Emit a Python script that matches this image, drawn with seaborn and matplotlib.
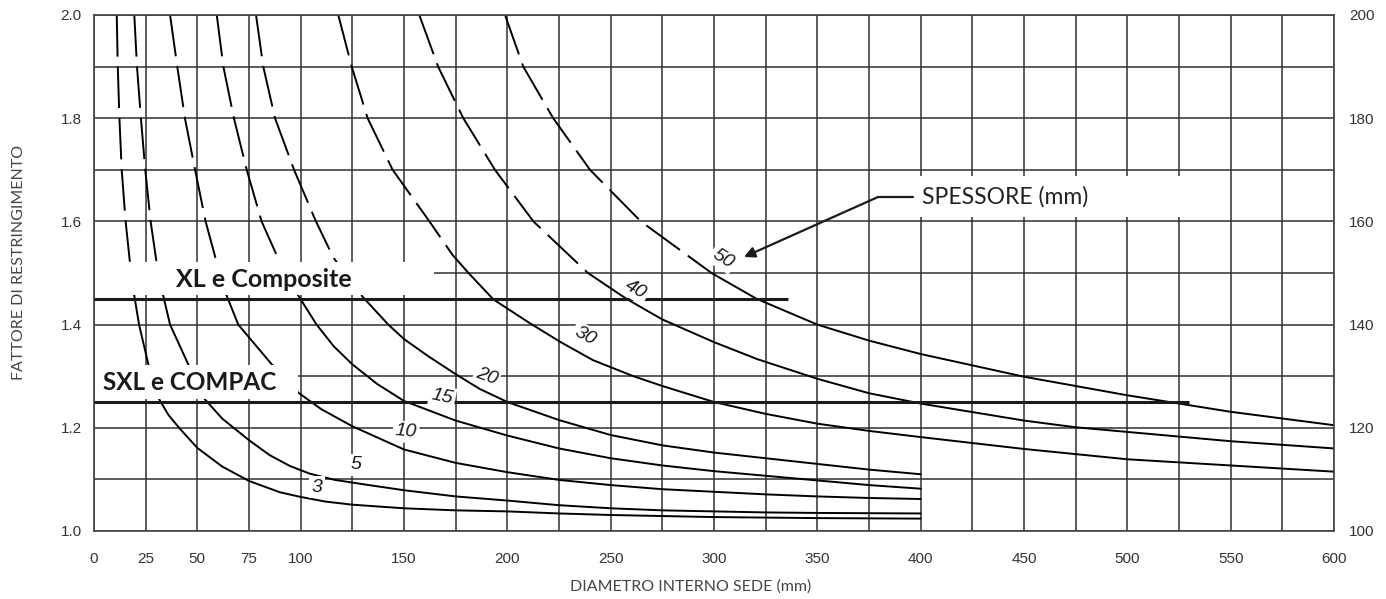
import numpy as np
import matplotlib
matplotlib.use("Agg")
import matplotlib.pyplot as plt
from matplotlib.patches import Rectangle
import seaborn as sns

# ---------------- data ----------------
thickness = [3, 5, 10, 15, 20, 30, 40, 50]

d_3 = [11.0, 11.5, 12.3, 13.4, 15.3, 17.4, 19.5, 21.8, 26.3, 31.6, 36.0, 41.6, 50.0, 62.0, 75.0, 90.0, 100.0,
       112.0, 125.0, 150.0, 175.0, 200.0, 225.0, 250.0, 275.0, 300.0, 350.0, 400.0]
f_3 = [2.00, 1.90, 1.80, 1.70, 1.60, 1.52, 1.456, 1.40, 1.323, 1.255, 1.225, 1.198, 1.161, 1.125, 1.097, 1.075, 1.066,
       1.057, 1.051, 1.044, 1.040, 1.038, 1.034, 1.031, 1.029, 1.027, 1.025, 1.024]

d_5 = [19.5, 20.8, 22.7, 24.8, 27.4, 30.3, 33.5, 36.8, 45.6, 53.7, 62.0, 75.0, 85.0, 94.8, 104.5, 116.6, 133.0, 150.0,
       175.0, 200.0, 225.0, 250.0, 275.0, 300.0, 325.0, 350.0, 400.0]
f_5 = [2.00, 1.90, 1.80, 1.70, 1.60, 1.52, 1.456, 1.40, 1.323, 1.255, 1.218, 1.176, 1.147, 1.126, 1.111, 1.099, 1.089,
       1.079, 1.067, 1.059, 1.050, 1.044, 1.040, 1.038, 1.036, 1.035, 1.034]

d_10 = [36.8, 40.3, 44.0, 48.9, 54.0, 59.4, 64.2, 69.8, 86.0, 98.9, 110.0, 125.0, 150.0, 175.0, 200.0, 225.0, 250.0,
        275.0, 300.0, 325.0, 350.0, 375.0, 400.0]
f_10 = [2.00, 1.90, 1.80, 1.70, 1.60, 1.52, 1.456, 1.40, 1.323, 1.268, 1.236, 1.203, 1.158, 1.132, 1.114, 1.099, 1.089,
        1.081, 1.076, 1.071, 1.067, 1.064, 1.062]

d_15 = [59.4, 62.6, 67.7, 73.9, 81.1, 90.0, 98.9, 107.7, 116.0, 125.0, 137.0, 150.0, 175.0, 200.0, 225.0, 250.0,
        275.0, 300.0, 325.0, 350.0, 375.0, 400.0]
f_15 = [2.00, 1.90, 1.80, 1.70, 1.60, 1.52, 1.456, 1.40, 1.358, 1.323, 1.285, 1.252, 1.214, 1.185, 1.160, 1.141,
        1.127, 1.116, 1.107, 1.098, 1.089, 1.082]

d_20 = [78.4, 81.9, 87.6, 96.8, 107.4, 115.8, 129.5, 142.4, 150.0, 162.0, 175.0, 186.8, 200.0, 225.0, 250.0, 275.0,
        300.0, 325.0, 350.0, 375.0, 400.0]
f_20 = [2.00, 1.90, 1.80, 1.70, 1.60, 1.53, 1.456, 1.40, 1.372, 1.338, 1.304, 1.275, 1.250, 1.215, 1.186, 1.166,
        1.152, 1.141, 1.130, 1.119, 1.110]

d_30 = [118.2, 124.7, 132.4, 144.5, 162.3, 173.5, 181.2, 193.2, 210.0, 225.4, 241.5, 261.0, 275.0, 300.0, 325.0,
        350.0, 375.0, 400.0, 450.0, 500.0, 525.0, 550.0, 600.0]
f_30 = [2.00, 1.90, 1.80, 1.70, 1.60, 1.535, 1.50, 1.449, 1.405, 1.367, 1.331, 1.30, 1.281, 1.250, 1.227,
        1.208, 1.194, 1.182, 1.159, 1.139, 1.133, 1.127, 1.115]

d_40 = [157.4, 166.5, 178.7, 194.0, 212.6, 239.0, 257.6, 275.0, 300.0, 321.0, 350.0, 375.0, 400.0, 450.0, 475.0,
        500.0, 525.0, 550.0, 600.0]
f_40 = [2.00, 1.90, 1.80, 1.70, 1.60, 1.50, 1.450, 1.41, 1.366, 1.333, 1.295, 1.267, 1.247, 1.214, 1.201,
        1.192, 1.183, 1.174, 1.160]

d_50 = [198.9, 207.7, 222.2, 240.0, 264.6, 298.8, 320.6, 350.0, 375.0, 400.0, 450.0, 500.0, 525.0, 550.0, 600.0]
f_50 = [2.00, 1.90, 1.80, 1.70, 1.60, 1.50, 1.45, 1.40, 1.369, 1.343, 1.299, 1.263, 1.247, 1.231, 1.205]

curve_d = [d_3, d_5, d_10, d_15, d_20, d_30, d_40, d_50]
curve_f = [f_3, f_5, f_10, f_15, f_20, f_30, f_40, f_50]

# label positions of thickness numbers (x, y, rotation)
label_x = [108.0, 126.7, 150.9, 168.5, 190.0, 237.5, 262.2, 304.4]
label_y = [1.085, 1.128, 1.192, 1.260, 1.299, 1.378, 1.468, 1.528]
label_rot = [0, 0, -5, -12, -20, -28, -30, -32]

x_ticks = list(range(0, 601, 25))
x_tick_labels = ["0", "25", "50", "75", "100", "", "150", "", "200", "", "250", "", "300", "", "350", "",
                 "400", "", "450", "", "500", "", "550", "", "600"]
y_ticks = [1.0, 1.1, 1.2, 1.3, 1.4, 1.5, 1.6, 1.7, 1.8, 1.9, 2.0]
y_tick_labels = ["1.0", "", "1.2", "", "1.4", "", "1.6", "", "1.8", "", "2.0"]
y2_ticks = [100, 120, 140, 160, 180, 200]

xl_level, xl_end = 1.45, 336.0
sxl_level, sxl_end = 1.25, 530.0

# ---------------- figure ----------------
sns.set_style("white")
plt.rcParams["lines.scale_dashes"] = False
plt.rcParams["font.family"] = ["Liberation Sans", "DejaVu Sans"]

W, H = 1386, 599
fig = plt.figure(figsize=(W / 100, H / 100), dpi=100)
ax = fig.add_axes([94 / W, 1 - 531 / H, 1240 / W, 516 / H])

grid_col = "#303030"
ax.set_xlim(0, 600)
ax.set_ylim(1.0, 2.0)
ax.set_xticks(x_ticks)
ax.set_xticklabels(x_tick_labels)
ax.set_yticks(y_ticks)
ax.set_yticklabels(y_tick_labels)
ax.grid(True, color=grid_col, lw=1.1)
ax.set_axisbelow(True)
ax.tick_params(axis="both", length=0, labelsize=11, labelcolor="#333333")
ax.tick_params(axis="x", pad=15)
ax.tick_params(axis="y", pad=9)
for s in ax.spines.values():
    s.set_color("#444444")
    s.set_linewidth(1.2)

ax2 = ax.twinx()
ax2.set_ylim(100, 200)
ax2.set_yticks(y2_ticks)
ax2.tick_params(axis="y", length=0, labelsize=11, labelcolor="#333333", pad=11)
ax2.grid(False)
for s in ax2.spines.values():
    s.set_visible(False)

# ---------------- curves ----------------
dash_style = (0, (30, 7))
for D, F in zip(curve_d, curve_f):
    D = np.asarray(D)
    F = np.asarray(F)
    k = int(np.argmax(F < 1.51))
    sns.lineplot(x=D[:k + 1], y=F[:k + 1], ax=ax, color="black", lw=1.4,
                 linestyle=dash_style, sort=False, estimator=None, zorder=2)
    sns.lineplot(x=D[k:], y=F[k:], ax=ax, color="black", lw=1.4,
                 sort=False, estimator=None, zorder=2)

# horizontal product lines
ax.plot([0, xl_end], [xl_level, xl_level], color="#1a1a1a", lw=2.2, zorder=4, solid_capstyle="butt")
ax.plot([0, sxl_end], [sxl_level, sxl_level], color="#1a1a1a", lw=2.2, zorder=4, solid_capstyle="butt")

# white boxes
ax.add_patch(Rectangle((0.6, 1.457), 164, 0.065, facecolor="white", edgecolor="none", zorder=3))
ax.add_patch(Rectangle((0.6, 1.256), 98.3, 0.066, facecolor="white", edgecolor="none", zorder=3))
ax.add_patch(Rectangle((391, 1.608), 137, 0.080, facecolor="white", edgecolor="none", zorder=3))

ax.text(82, 1.487, "XL e Composite", fontsize=18, fontweight="bold", family=["Lato", "DejaVu Sans"],
        ha="center", va="center", color="#1a1a1a", zorder=6)
ax.text(4.5, 1.288, "SXL e COMPAC", fontsize=17.5, fontweight="bold", family=["Lato", "DejaVu Sans"],
        ha="left", va="center", color="#1a1a1a", zorder=6)

# thickness labels
for t, lx, ly, rot in zip(thickness, label_x, label_y, label_rot):
    ax.text(lx, ly, str(t), fontsize=14, style="italic", rotation=rot, ha="center", va="center",
            color="#1a1a1a", zorder=6,
            bbox=dict(boxstyle="square,pad=0.12", facecolor="white", edgecolor="none"))

# SPESSORE annotation
ax.plot([379.2, 396.5], [1.647, 1.647], color="#1a1a1a", lw=1.6, zorder=6)
ax.annotate("", xy=(314.5, 1.531), xytext=(379.2, 1.647), zorder=6,
            arrowprops=dict(arrowstyle="-|>", color="#1a1a1a", lw=1.6, mutation_scale=16,
                            shrinkA=0, shrinkB=0))
ax.text(400.5, 1.648, "SPESSORE (mm)", fontsize=16.5, family=["Lato", "DejaVu Sans"],
        ha="left", va="center", color="#222222", zorder=6)

# axis titles
fig.text(19 / W, 1 - 262 / H, "FATTORE DI RESTRINGIMENTO", rotation=90, fontsize=11.5,
         family=["Lato", "DejaVu Sans"], color="#444444", ha="center", va="center")
fig.text(691 / W, 1 - 587 / H, "DIAMETRO INTERNO SEDE (mm)", fontsize=11.5,
         family=["Lato", "DejaVu Sans"], color="#444444", ha="center", va="center")

ax.set_xlabel("")
ax.set_ylabel("")
ax2.set_ylabel("")

fig.savefig("out.png", dpi=100)
